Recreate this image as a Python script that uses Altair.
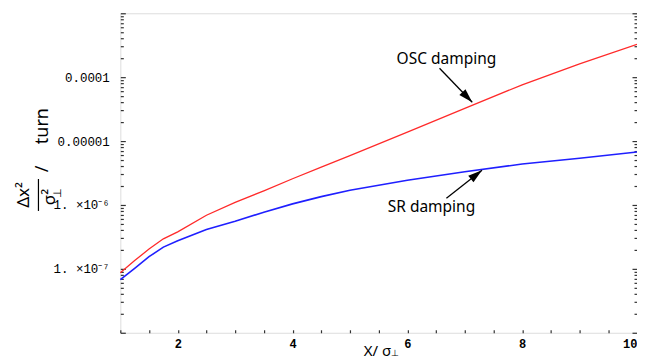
import altair as alt
import pandas as pd

# ---- data ----
x_vals = [1, 1.25, 1.5, 1.75, 2, 2.5, 3, 3.5, 4, 4.5, 5, 6, 7, 8, 9, 10]
osc_vals = [8.7e-8, 1.35e-7, 2.04e-7, 2.95e-7, 3.8e-7, 6.9e-7, 1.1e-6, 1.66e-6,
            2.57e-6, 3.9e-6, 5.9e-6, 1.38e-5, 3.24e-5, 7.6e-5, 1.62e-4, 3.27e-4]
sr_vals = [6.8e-8, 1.02e-7, 1.55e-7, 2.19e-7, 2.75e-7, 4.12e-7, 5.56e-7, 7.7e-7,
           1.04e-6, 1.35e-6, 1.7e-6, 2.43e-6, 3.31e-6, 4.37e-6, 5.37e-6, 6.76e-6]

x_label_values = [2, 4, 6, 8, 10]
x_tick_values = [1, 1.5, 2, 2.5, 3, 3.5, 4, 4.5, 5, 5.5, 6, 6.5, 7, 7.5, 8, 8.5, 9, 9.5, 10]
y_label_values = [1e-7, 1e-6, 1e-5, 1e-4]
y_label_texts = ["1. ×10⁻⁷", "1. ×10⁻⁶", "0.00001", "0.0001"]
y_major_ticks = [1e-8, 1e-7, 1e-6, 1e-5, 1e-4, 1e-3]
y_minor_ticks = [m * d for d in [1e-8, 1e-7, 1e-6, 1e-5, 1e-4] for m in range(2, 10)]

annot_texts = ["OSC  damping", "SR  damping"]
annot_x = [6.68, 6.42]
annot_y = [1.9e-4, 9.2e-7]
arrow_x0 = [6.56, 6.68]
arrow_y0 = [1.38e-4, 1.27e-6]
arrow_x1 = [7.13, 7.30]
arrow_y1 = [4.05e-5, 3.49e-6]

lines_df = pd.DataFrame({
    "x": x_vals * 2,
    "value": osc_vals + sr_vals,
    "series": ["OSC"] * len(x_vals) + ["SR"] * len(x_vals),
})
annot_df = pd.DataFrame({"text": annot_texts, "x": annot_x, "y": annot_y})
arrow_df = pd.DataFrame({"x0": arrow_x0, "y0": arrow_y0, "x1": arrow_x1, "y1": arrow_y1})

W, H = 517.5, 320
xs = alt.Scale(domain=[1, 10], nice=False, zero=False)
ys = alt.Scale(type="log", domain=[1e-8, 1e-3], nice=False)

label_expr = " : ".join(
    f"datum.value < {v * 1.5} ? '{t}'" for v, t in zip(y_label_values[:-1], y_label_texts[:-1])
) + f" : '{y_label_texts[-1]}'"

LABEL_FONT = "Liberation Mono"
TEXT_FONT = "Noto Sans"

red = alt.Chart(lines_df).transform_filter(alt.datum.series == "OSC").mark_line(
    color="#ff2a2a", strokeWidth=1.3
).encode(
    x=alt.X("x:Q", scale=xs, axis=alt.Axis(
        orient="bottom", values=x_label_values, ticks=False, tickSize=0, domain=False,
        grid=False, labelFont=LABEL_FONT, labelFontSize=12, labelFontWeight="bold",
        labelColor="black", labelPadding=6, format="d",
        title="X/ σ", titleFont=TEXT_FONT, titleFontSize=15, titleFontWeight="normal",
        titleColor="black", titleX=257, titleY=23, titleBaseline="alphabetic",
        titleAlign="center")),
    y=alt.Y("value:Q", scale=ys, axis=alt.Axis(
        orient="left", values=y_label_values, labelExpr=label_expr, ticks=False,
        tickSize=0, domain=False, grid=False, labelFont=LABEL_FONT, labelFontSize=12.5,
        labelColor="black", labelPadding=11, title=None)),
)

blue = alt.Chart(lines_df).transform_filter(alt.datum.series == "SR").mark_line(
    color="#1f1fff", strokeWidth=1.6
).encode(
    x=alt.X("x:Q", scale=xs, axis=alt.Axis(
        orient="top", offset=-H, values=x_tick_values, labels=False, domain=False,
        grid=False, tickSize=3, tickColor="#333", tickWidth=1.2, title=None)),
    y=alt.Y("value:Q", scale=ys, axis=alt.Axis(
        orient="right", offset=-W, values=y_major_ticks, labels=False, domain=False,
        grid=False, tickSize=5, tickColor="#333", tickWidth=1.2, title=None)),
)

def tick_layer(orient, values, size):
    return alt.Chart(lines_df).mark_point(opacity=0).encode(
        x=alt.X("x:Q", scale=xs, axis=None),
        y=alt.Y("value:Q", scale=ys, axis=alt.Axis(
            orient=orient, offset=-W, values=values, labels=False, domain=False,
            grid=False, tickSize=size, tickColor="#333", tickWidth=1.2, title=None)),
    )

t1 = tick_layer("right", y_minor_ticks, 3)
t2 = tick_layer("left", y_major_ticks, 5)
t3 = tick_layer("left", y_minor_ticks, 3)

annots = alt.Chart(annot_df).mark_text(
    font=TEXT_FONT, fontSize=15.5, color="black", align="center", baseline="middle"
).encode(
    x=alt.X("x:Q", scale=xs, axis=None),
    y=alt.Y("y:Q", scale=ys, axis=None),
    text="text:N",
)

shafts = alt.Chart(arrow_df).mark_rule(color="black", strokeWidth=1.3).encode(
    x=alt.X("x0:Q", scale=xs, axis=None),
    y=alt.Y("y0:Q", scale=ys, axis=None),
    x2="x1:Q",
    y2="y1:Q",
)

HEAD = "M0,0L-0.6,2L0.6,2Z"
head1 = alt.Chart(arrow_df.iloc[[0]]).mark_point(
    shape=HEAD, filled=True, color="black", size=200, opacity=1, angle=136
).encode(x=alt.X("x1:Q", scale=xs, axis=None), y=alt.Y("y1:Q", scale=ys, axis=None))
head2 = alt.Chart(arrow_df.iloc[[1]]).mark_point(
    shape=HEAD, filled=True, color="black", size=200, opacity=1, angle=52
).encode(x=alt.X("x1:Q", scale=xs, axis=None), y=alt.Y("y1:Q", scale=ys, axis=None))

# ---- y-axis title: (Δx² / σ⊥²) / turn, rotated ----
def label_text(txt, px, py, size, angle=270):
    return alt.Chart(pd.DataFrame({"t": [txt]})).mark_text(
        font=TEXT_FONT, fontSize=size, color="black", angle=angle,
        align="center", baseline="middle"
    ).encode(text="t:N", x=alt.value(px), y=alt.value(py))

num = label_text("Δx²", -96, 182, 17)
den = label_text("σ²", -70, 184, 17)
den_sub = label_text("⊥", -62, 180, 11)
slash = label_text("/", -77, 156, 18)
turn = label_text("turn", -77, 113, 18)
xsub = label_text("⊥", 275, 340, 9, angle=0)
bar = alt.Chart(pd.DataFrame({"t": [0]})).mark_rule(color="black", strokeWidth=1.2).encode(
    x=alt.value(-82), y=alt.value(166), y2=alt.value(198))

chart = alt.layer(
    red, blue, t1, t2, t3, shafts, head1, head2, annots,
    num, den, den_sub, slash, turn, xsub, bar
).resolve_axis(x="independent", y="independent").properties(
    width=W, height=H,
    padding={"left": 112.5, "top": 5, "right": 0, "bottom": 28},
    autosize=alt.AutoSizeParams(type="none"),
).configure_view(stroke="#333", strokeWidth=1.5).configure(background="white")

chart.save("out.html", embed_options={"renderer": "svg", "actions": False})
